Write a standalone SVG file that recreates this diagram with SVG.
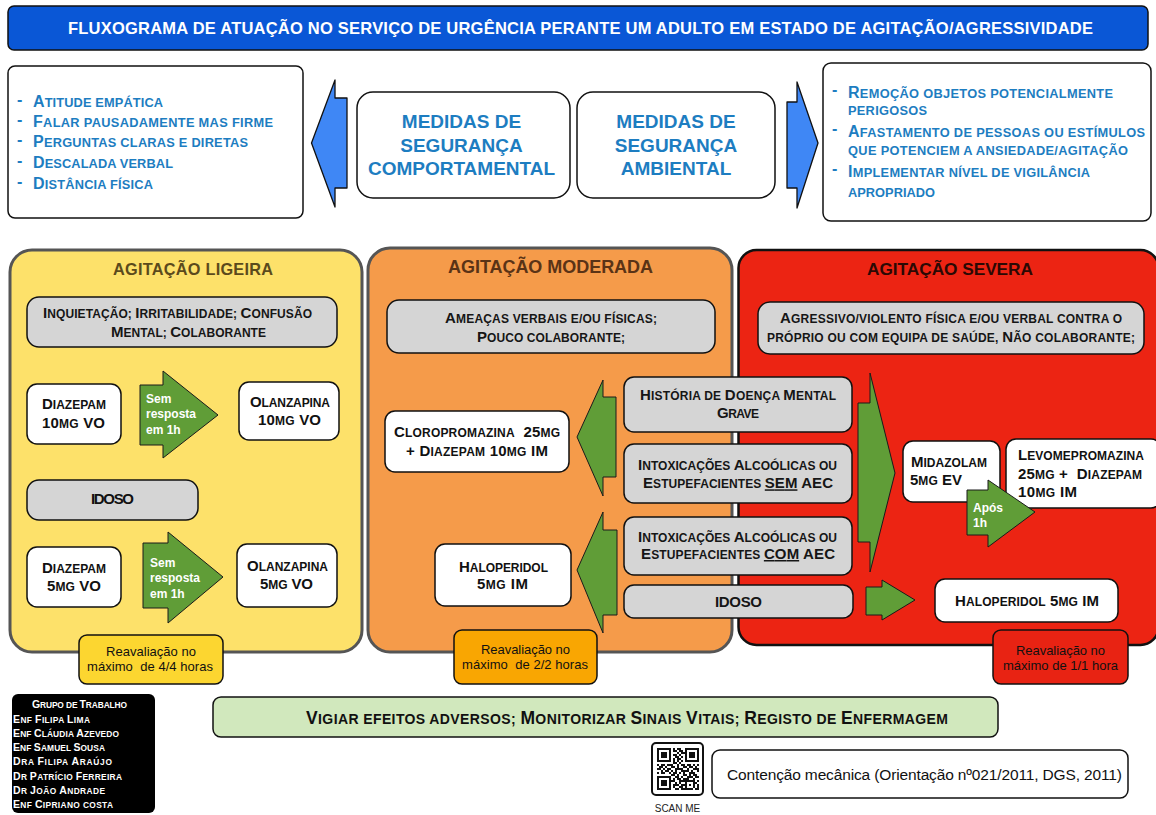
<svg xmlns="http://www.w3.org/2000/svg" width="1156" height="815" viewBox="0 0 1156 815">
<style>
text{font-family:"Liberation Sans",Arial,Helvetica,sans-serif}
.s{font-size:0.8em}
.u{text-decoration:underline}
.ttl{font-size:16.5px;font-weight:bold;fill:#fff}
.list{font-size:16px;font-weight:bold;fill:#1d7dc1}
.med-hd{font-size:19px;font-weight:bold;fill:#1d7dc1}
.desc{font-size:15px;font-weight:bold;fill:#161616}
.drug{font-size:15px;font-weight:bold;fill:#111}
.note{font-size:13px;fill:#111}
.arw{font-size:12px;font-weight:bold;fill:#fff}
.grp{font-size:10.5px;font-weight:bold;fill:#fff}
.box{fill:#fff;stroke:#111;stroke-width:1.5}
.grey{fill:#d5d5d5;stroke:#111;stroke-width:1.5}
.garrow{fill:#609d37;stroke:#1a1a1a;stroke-width:1;stroke-linejoin:round}
.barrow{fill:#3f87f5;stroke:#111;stroke-width:1.3;stroke-linejoin:round}
</style>

<rect width="1156" height="815" fill="#fff"/>

<!-- header -->
<g id="title">
  <rect x="8" y="6" width="1140" height="44" rx="6" fill="#0a57d6" stroke="#111" stroke-width="1.5"/>
  <text class="ttl" x="68" y="33.5" textLength="1025">FLUXOGRAMA DE ATUAÇÃO NO SERVIÇO DE URGÊNCIA PERANTE UM ADULTO EM ESTADO DE AGITAÇÃO/AGRESSIVIDADE</text>
</g>

<g id="list-comportamental">
  <rect class="box" x="8" y="66" width="295" height="152" rx="7"/>
  <g class="list">
    <text x="17" y="104.7">-</text>
    <text x="33" y="106.7" textLength="130">A<tspan class="s">TITUDE EMPÁTICA</tspan></text>
    <text x="17" y="124.9">-</text>
    <text x="33" y="126.9" textLength="240">F<tspan class="s">ALAR PAUSADAMENTE MAS FIRME</tspan></text>
    <text x="17" y="145.3">-</text>
    <text x="33" y="147.3" textLength="215">P<tspan class="s">ERGUNTAS CLARAS E DIRETAS</tspan></text>
    <text x="17" y="166">-</text>
    <text x="33" y="168" textLength="140">D<tspan class="s">ESCALADA VERBAL</tspan></text>
    <text x="17" y="187">-</text>
    <text x="33" y="189" textLength="120">D<tspan class="s">ISTÂNCIA FÍSICA</tspan></text>
  </g>
</g>

<g id="medidas-comportamental">
  <rect class="box" x="357" y="92" width="213" height="106" rx="16"/>
  <text class="med-hd" x="461.5" y="128.3" text-anchor="middle">MEDIDAS DE</text>
  <text class="med-hd" x="461.5" y="151.7" text-anchor="middle">SEGURANÇA</text>
  <text class="med-hd" x="461.5" y="175" text-anchor="middle">COMPORTAMENTAL</text>
</g>

<g id="medidas-ambiental">
  <rect class="box" x="577" y="92" width="198" height="106" rx="16"/>
  <text class="med-hd" x="676" y="128.3" text-anchor="middle">MEDIDAS DE</text>
  <text class="med-hd" x="676" y="151.7" text-anchor="middle">SEGURANÇA</text>
  <text class="med-hd" x="676" y="175" text-anchor="middle">AMBIENTAL</text>
</g>

<g id="list-ambiental">
  <rect class="box" x="823" y="63" width="328" height="158" rx="8"/>
  <g class="list">
    <text x="832" y="95">-</text>
    <text x="848" y="98" textLength="265">R<tspan class="s">EMOÇÃO OBJETOS POTENCIALMENTE</tspan></text>
    <text x="848" y="115" textLength="79"><tspan class="s">PERIGOSOS</tspan></text>
    <text x="832" y="133.7">-</text>
    <text x="848" y="136.7" textLength="297">A<tspan class="s">FASTAMENTO DE PESSOAS OU ESTÍMULOS</tspan></text>
    <text x="848" y="155" textLength="280"><tspan class="s">QUE POTENCIEM A ANSIEDADE/AGITAÇÃO</tspan></text>
    <text x="832" y="173.7">-</text>
    <text x="848" y="176.7" textLength="242">I<tspan class="s">MPLEMENTAR NÍVEL DE VIGILÂNCIA</tspan></text>
    <text x="848" y="196.7" textLength="87"><tspan class="s">APROPRIADO</tspan></text>
  </g>
</g>

<!-- severity panels -->
<g id="panel-ligeira">
  <rect x="10" y="250" width="352" height="402" rx="22" fill="#fde16a" stroke="#555" stroke-width="3"/>
  <text x="113" y="275" textLength="160" font-size="16.3" font-weight="bold" fill="#5b4a1c">AGITAÇÃO LIGEIRA</text>
</g>
<g id="panel-moderada">
  <rect x="368" y="248" width="364" height="404" rx="22" fill="#f59b4a" stroke="#555" stroke-width="3"/>
  <text x="448" y="273" textLength="205" font-size="18" font-weight="bold" fill="#5a3316">AGITAÇÃO MODERADA</text>
</g>
<g id="panel-severa">
  <rect x="738.5" y="250" width="420" height="395" rx="18" fill="#ec2413" stroke="#111" stroke-width="2.5"/>
  <text x="867" y="275" textLength="166" font-size="17.3" font-weight="bold" fill="#2b0904">AGITAÇÃO SEVERA</text>
</g>

<!-- ligeira -->
<g id="sintomas-ligeira">
  <rect class="grey" x="27" y="297" width="310" height="50" rx="12"/>
  <text class="desc" x="43" y="318.3" textLength="269" xml:space="preserve">I<tspan class="s">NQUIETAÇÃO; </tspan>I<tspan class="s">RRITABILIDADE; </tspan>C<tspan class="s">ONFUSÃO</tspan></text>
  <text class="desc" x="111" y="337.3" textLength="155" xml:space="preserve">M<tspan class="s">ENTAL; </tspan>C<tspan class="s">OLABORANTE</tspan></text>
</g>
<g id="diazepam-10">
  <rect class="box" x="27" y="384" width="94" height="60" rx="10"/>
  <text class="drug" x="42" y="409" textLength="64">D<tspan class="s">IAZEPAM</tspan></text>
  <text class="drug" x="42" y="427.7" textLength="63">10<tspan class="s">MG</tspan> VO</text>
</g>
<g id="olanzapina-10">
  <rect class="box" x="239" y="382" width="100" height="58" rx="10"/>
  <text class="drug" x="250" y="407.3" textLength="80">O<tspan class="s">LANZAPINA</tspan></text>
  <text class="drug" x="258" y="425" textLength="63">10<tspan class="s">MG</tspan> VO</text>
</g>
<g id="idoso-ligeira">
  <rect class="grey" x="27" y="480" width="171" height="40" rx="12"/>
  <text class="drug" x="91" y="504.3" textLength="43">IDOSO</text>
</g>
<g id="diazepam-5">
  <rect class="box" x="27" y="547" width="94" height="60" rx="10"/>
  <text class="drug" x="42" y="573.3" textLength="64">D<tspan class="s">IAZEPAM</tspan></text>
  <text class="drug" x="47" y="591" textLength="54">5<tspan class="s">MG</tspan> VO</text>
</g>
<g id="olanzapina-5">
  <rect class="box" x="237" y="544" width="100" height="63" rx="10"/>
  <text class="drug" x="247" y="571" textLength="81">O<tspan class="s">LANZAPINA</tspan></text>
  <text class="drug" x="260" y="589.3" textLength="53">5<tspan class="s">MG</tspan> VO</text>
</g>
<g id="reavaliacao-ligeira">
  <rect x="79" y="635" width="144" height="49" rx="8" fill="#fcd630" stroke="#111" stroke-width="1.5"/>
  <text class="note" x="106" y="656" textLength="90">Reavaliação no</text>
  <text class="note" x="87" y="671" textLength="126" xml:space="preserve">máximo  de 4/4 horas</text>
</g>

<!-- moderada -->
<g id="sintomas-moderada">
  <rect class="grey" x="387" y="300" width="328" height="53" rx="12"/>
  <text class="desc" x="445" y="323.3" textLength="212">A<tspan class="s">MEAÇAS VERBAIS E/OU FÍSICAS;</tspan></text>
  <text class="desc" x="477" y="341.7" textLength="148">P<tspan class="s">OUCO COLABORANTE;</tspan></text>
</g>
<g id="cloropromazina">
  <rect class="box" x="385" y="411" width="184" height="61" rx="10"/>
  <text class="drug" x="394" y="437.3" textLength="166" xml:space="preserve">C<tspan class="s">LOROPROMAZINA</tspan>  25<tspan class="s">MG</tspan></text>
  <text class="drug" x="406" y="455.7" textLength="142">+ D<tspan class="s">IAZEPAM</tspan> 10<tspan class="s">MG</tspan> IM</text>
</g>
<g id="haloperidol-moderada">
  <rect class="box" x="435" y="544" width="136" height="62" rx="10"/>
  <text class="drug" x="459" y="571.7" textLength="89">H<tspan class="s">ALOPERIDOL</tspan></text>
  <text class="drug" x="477" y="589.3" textLength="51">5<tspan class="s">MG</tspan> IM</text>
</g>
<g id="reavaliacao-moderada">
  <rect x="454" y="630" width="143" height="54" rx="8" fill="#f9a602" stroke="#111" stroke-width="1.5"/>
  <text class="note" x="481" y="654.3" textLength="89">Reavaliação no</text>
  <text class="note" x="462" y="669" textLength="126" xml:space="preserve">máximo  de 2/2 horas</text>
</g>

<!-- criteria shared by moderada / severa -->
<g id="historia-doenca-mental">
  <rect class="grey" x="624" y="377" width="228" height="55" rx="10"/>
  <text class="desc" x="640" y="400" textLength="196" xml:space="preserve">H<tspan class="s">ISTÓRIA DE </tspan>D<tspan class="s">OENÇA </tspan>M<tspan class="s">ENTAL</tspan></text>
  <text class="desc" x="717" y="418.3" textLength="42">G<tspan class="s">RAVE</tspan></text>
</g>
<g id="intoxicacoes-sem-aec">
  <rect class="grey" x="624" y="444" width="228" height="59" rx="10"/>
  <text class="desc" x="638" y="470" textLength="199" xml:space="preserve">I<tspan class="s">NTOXICAÇÕES </tspan>A<tspan class="s">LCOÓLICAS OU</tspan></text>
  <text class="desc" x="643" y="488.3" textLength="190" xml:space="preserve">E<tspan class="s">STUPEFACIENTES </tspan><tspan class="u">SEM</tspan> AEC</text>
</g>
<g id="intoxicacoes-com-aec">
  <rect class="grey" x="624" y="517" width="228" height="58" rx="10"/>
  <text class="desc" x="638" y="541.7" textLength="199" xml:space="preserve">I<tspan class="s">NTOXICAÇÕES </tspan>A<tspan class="s">LCOÓLICAS OU</tspan></text>
  <text class="desc" x="641" y="559" textLength="194" xml:space="preserve">E<tspan class="s">STUPEFACIENTES </tspan><tspan class="u">COM</tspan> AEC</text>
</g>
<g id="idoso-criterio">
  <rect class="grey" x="624" y="585" width="229" height="33" rx="10"/>
  <text class="desc" x="715" y="606.7" textLength="47">IDOSO</text>
</g>

<!-- severa -->
<g id="sintomas-severa">
  <rect class="grey" x="758" y="302" width="386" height="52" rx="12"/>
  <text class="desc" x="780" y="323.3" textLength="342">A<tspan class="s">GRESSIVO/VIOLENTO FÍSICA E/OU VERBAL CONTRA O</tspan></text>
  <text class="desc" x="767" y="342.3" textLength="368" xml:space="preserve"><tspan class="s">PRÓPRIO OU COM EQUIPA DE SAÚDE, </tspan>N<tspan class="s">ÃO COLABORANTE;</tspan></text>
</g>
<g id="midazolam">
  <rect class="box" x="903" y="441" width="97" height="61" rx="10"/>
  <text class="drug" x="911" y="467.3" textLength="76">M<tspan class="s">IDAZOLAM</tspan></text>
  <text class="drug" x="910" y="485" textLength="52">5<tspan class="s">MG</tspan> EV</text>
</g>
<g id="levomepromazina">
  <rect class="box" x="1006" y="439" width="155" height="69" rx="10"/>
  <text class="drug" x="1018" y="460" textLength="126">L<tspan class="s">EVOMEPROMAZINA</tspan></text>
  <text class="drug" x="1018" y="479" textLength="124" xml:space="preserve">25<tspan class="s">MG</tspan> +  D<tspan class="s">IAZEPAM</tspan></text>
  <text class="drug" x="1018" y="497.3" textLength="59">10<tspan class="s">MG</tspan> IM</text>
</g>
<g id="haloperidol-severa">
  <rect class="box" x="935" y="579" width="183" height="43" rx="10"/>
  <text class="drug" x="955" y="605.7" textLength="144">H<tspan class="s">ALOPERIDOL</tspan> 5<tspan class="s">MG</tspan> IM</text>
</g>
<g id="reavaliacao-severa">
  <rect x="993" y="630" width="135" height="54" rx="8" fill="#e82313" stroke="#111" stroke-width="1.5"/>
  <text class="note" x="1016" y="655" textLength="89" fill="#1a0805">Reavaliação no</text>
  <text class="note" x="1003" y="670" textLength="115" fill="#1a0805">máximo de 1/1 hora</text>
</g>

<!-- footer -->
<g id="grupo-trabalho">
  <rect x="12" y="694" width="143" height="119" rx="6" fill="#000"/>
  <g class="grp" xml:space="preserve">
    <text x="32" y="708.3" textLength="95">G<tspan class="s">RUPO DE </tspan>T<tspan class="s">RABALHO</tspan></text>
    <text x="13" y="723.3" textLength="77">E<tspan class="s">NF </tspan>F<tspan class="s">ILIPA </tspan>L<tspan class="s">IMA</tspan></text>
    <text x="13" y="737" textLength="106">E<tspan class="s">NF </tspan>C<tspan class="s">LÁUDIA </tspan>A<tspan class="s">ZEVEDO</tspan></text>
    <text x="13" y="751" textLength="92">E<tspan class="s">NF </tspan>S<tspan class="s">AMUEL </tspan>S<tspan class="s">OUSA</tspan></text>
    <text x="13" y="765.3" textLength="99">D<tspan class="s">RA </tspan>F<tspan class="s">ILIPA </tspan>A<tspan class="s">RAÚJO</tspan></text>
    <text x="13" y="779.7" textLength="109">D<tspan class="s">R </tspan>P<tspan class="s">ATRÍCIO </tspan>F<tspan class="s">ERREIRA</tspan></text>
    <text x="13" y="794" textLength="92">D<tspan class="s">R </tspan>J<tspan class="s">OÃO </tspan>A<tspan class="s">NDRADE</tspan></text>
    <text x="13" y="808.3" textLength="100">E<tspan class="s">NF </tspan>C<tspan class="s">IPRIANO COSTA</tspan></text>
  </g>
</g>

<g id="vigilancia">
  <rect x="213" y="697" width="785" height="40" rx="8" fill="#d1e8bd" stroke="#111" stroke-width="1.5"/>
  <text x="306" y="723.5" textLength="642" font-size="17.5" font-weight="bold" fill="#111" xml:space="preserve">V<tspan class="s">IGIAR EFEITOS ADVERSOS; </tspan>M<tspan class="s">ONITORIZAR </tspan>S<tspan class="s">INAIS </tspan>V<tspan class="s">ITAIS; </tspan>R<tspan class="s">EGISTO DE </tspan>E<tspan class="s">NFERMAGEM</tspan></text>
</g>

<g id="qr-code">
  <rect x="652" y="743" width="51" height="52" rx="4" fill="#fff" stroke="#111" stroke-width="2"/>
  <path transform="translate(656.5 748) scale(2)" fill="#111" shape-rendering="crispEdges" d="M0 0h7v1h-7zM8 0h1v1h-1zM10 0h2v1h-2zM14 0h7v1h-7zM0 1h1v1h-1zM6 1h1v1h-1zM8 1h2v1h-2zM11 1h2v1h-2zM14 1h1v1h-1zM20 1h1v1h-1zM0 2h1v1h-1zM2 2h3v1h-3zM6 2h1v1h-1zM10 2h1v1h-1zM12 2h3v1h-3zM16 2h3v1h-3zM20 2h1v1h-1zM0 3h1v1h-1zM2 3h3v1h-3zM6 3h1v1h-1zM8 3h2v1h-2zM11 3h1v1h-1zM14 3h1v1h-1zM16 3h3v1h-3zM20 3h1v1h-1zM0 4h1v1h-1zM2 4h3v1h-3zM6 4h1v1h-1zM9 4h2v1h-2zM12 4h1v1h-1zM14 4h1v1h-1zM16 4h3v1h-3zM20 4h1v1h-1zM0 5h1v1h-1zM6 5h1v1h-1zM8 5h1v1h-1zM10 5h2v1h-2zM14 5h1v1h-1zM20 5h1v1h-1zM0 6h7v1h-7zM8 6h1v1h-1zM10 6h1v1h-1zM12 6h1v1h-1zM14 6h7v1h-7zM8 7h2v1h-2zM11 7h1v1h-1zM0 8h1v1h-1zM2 8h2v1h-2zM5 8h3v1h-3zM10 8h1v1h-1zM12 8h2v1h-2zM15 8h2v1h-2zM18 8h1v1h-1zM20 8h1v1h-1zM1 9h2v1h-2zM4 9h1v1h-1zM7 9h2v1h-2zM10 9h1v1h-1zM13 9h2v1h-2zM16 9h2v1h-2zM19 9h1v1h-1zM0 10h2v1h-2zM3 10h1v1h-1zM5 10h2v1h-2zM9 10h4v1h-4zM15 10h1v1h-1zM18 10h3v1h-3zM2 11h1v1h-1zM4 11h2v1h-2zM7 11h1v1h-1zM9 11h1v1h-1zM12 11h4v1h-4zM17 11h1v1h-1zM20 11h1v1h-1zM0 12h1v1h-1zM2 12h2v1h-2zM6 12h1v1h-1zM8 12h2v1h-2zM11 12h1v1h-1zM13 12h1v1h-1zM16 12h3v1h-3zM7 13h2v1h-2zM10 13h1v1h-1zM13 13h2v1h-2zM16 13h1v1h-1zM18 13h2v1h-2zM0 14h7v1h-7zM9 14h2v1h-2zM12 14h1v1h-1zM15 14h3v1h-3zM19 14h2v1h-2zM0 15h1v1h-1zM6 15h1v1h-1zM8 15h1v1h-1zM10 15h2v1h-2zM13 15h3v1h-3zM18 15h1v1h-1zM0 16h1v1h-1zM2 16h3v1h-3zM6 16h3v1h-3zM11 16h8v1h-8zM20 16h1v1h-1zM0 17h1v1h-1zM2 17h3v1h-3zM6 17h1v1h-1zM9 17h1v1h-1zM11 17h1v1h-1zM14 17h1v1h-1zM18 17h2v1h-2zM0 18h1v1h-1zM2 18h3v1h-3zM6 18h1v1h-1zM8 18h3v1h-3zM12 18h3v1h-3zM16 18h1v1h-1zM18 18h1v1h-1zM20 18h1v1h-1zM0 19h1v1h-1zM6 19h1v1h-1zM8 19h1v1h-1zM11 19h2v1h-2zM14 19h1v1h-1zM18 19h1v1h-1zM20 19h1v1h-1zM0 20h7v1h-7zM9 20h2v1h-2zM12 20h6v1h-6zM19 20h2v1h-2z"/>
  <text x="677.5" y="812" text-anchor="middle" font-family="'Open Sans','Liberation Sans',sans-serif" font-size="10" fill="#222">SCAN ME</text>
</g>

<g id="contencao">
  <rect class="box" x="712" y="750" width="416" height="48" rx="8"/>
  <text x="727" y="780" textLength="395" font-size="15.5" fill="#111">Contenção mecânica (Orientação nº021/2011, DGS, 2011)</text>
</g>

<!-- block arrows linking the boxes -->
<g id="connectors">
  <polygon class="barrow" points="347,98 335,98 335,80 311.5,143 335,207 335,188 347,188"/>
  <polygon class="barrow" points="787,102 797,102 797,82 818,143 797,208 797,188 787,188"/>

  <polygon class="garrow" points="140,385 163,385 163,371 218,415 163,458 163,445 140,445"/>
  <polygon class="garrow" points="143,543 168,543 168,532 223,577 168,623 168,608 143,608"/>

  <polygon class="garrow" points="616,397 603,397 603,380 577,437 603,496 603,477 616,477"/>
  <polygon class="garrow" points="617,530 603,530 603,512 577,570 603,633 603,615 617,615"/>

  <polygon class="garrow" points="858,403 870,403 870,373 895,473 870,572 870,542 858,542"/>
  <polygon class="garrow" points="967,490 988,490 988,480 1035,512 988,547 988,535 967,535"/>
  <polygon class="garrow" points="866,587 882,587 882,580 915,600 882,620 882,615 866,615"/>

  <text class="arw" x="146" y="403.3">Sem</text>
  <text class="arw" x="146" y="418.3">resposta</text>
  <text class="arw" x="146" y="434">em 1h</text>
  <text class="arw" x="150" y="567.3">Sem</text>
  <text class="arw" x="150" y="582.3">resposta</text>
  <text class="arw" x="150" y="598.3">em 1h</text>
  <text class="arw" x="973" y="511.7">Após</text>
  <text class="arw" x="973" y="526.7">1h</text>
</g>
</svg>
